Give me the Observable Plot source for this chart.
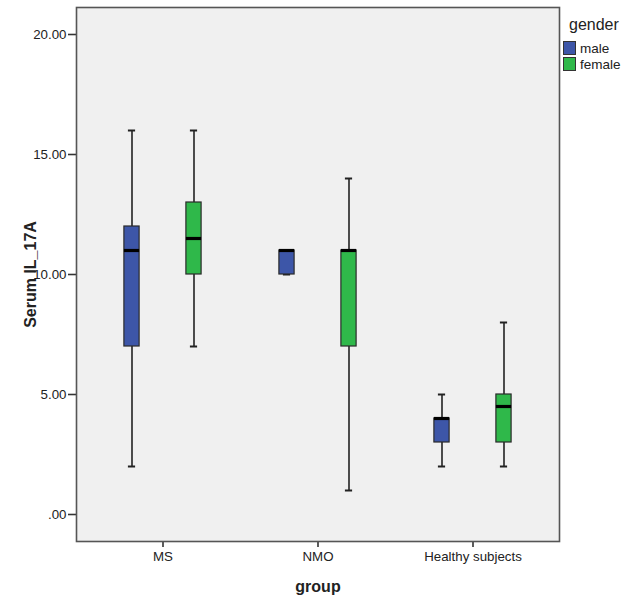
<!DOCTYPE html>
<html>
<head>
<meta charset="utf-8">
<script src="https://cdn.jsdelivr.net/npm/d3@7"></script>
<script src="https://cdn.jsdelivr.net/npm/@observablehq/plot@0.6"></script>
<style>
  body { margin: 0; background: #fff; font-family: "Liberation Sans", Arial, sans-serif; }
  #wrap { position: relative; width: 624px; height: 602px; }
  #legend { position: absolute; left: 563px; top: 16px; font-family: "Liberation Sans Narrow", "Liberation Sans", Arial, sans-serif; color: #222; }
  #legend .title { font-size: 16px; margin-left: 6px; margin-bottom: 6px; }
  #legend .item { display: flex; align-items: center; height: 16px; font-size: 13.5px; }
  #legend .sw { width: 11px; height: 12px; border: 1px solid #333; margin-right: 4px; }
</style>
</head>
<body>
<div id="wrap"><div id="chart"></div><div id="legend"></div></div>
<script>
const groups = ["MS", "NMO", "Healthy subjects"];
const genders = ["male", "female"];
const colors = ["#3d56a8", "#2fb84a"];
// summary statistics per group, male then female
const maleMin    = [2, 10, 2];
const maleQ1     = [7, 10, 3];
const maleMedian = [11, 11, 4];
const maleQ3     = [12, 11, 4];
const maleMax    = [16, 11, 5];
const femaleMin    = [7, 1, 2];
const femaleQ1     = [10, 7, 3];
const femaleMedian = [11.5, 11, 4.5];
const femaleQ3     = [13, 11, 5];
const femaleMax    = [16, 14, 8];
const yTicks = [0, 5, 10, 15, 20];

const rows = [];
groups.forEach((g, i) => {
  rows.push({group: g, gender: "male", min: maleMin[i], q1: maleQ1[i], median: maleMedian[i], q3: maleQ3[i], max: maleMax[i]});
  rows.push({group: g, gender: "female", min: femaleMin[i], q1: femaleQ1[i], median: femaleMedian[i], q3: femaleQ3[i], max: femaleMax[i]});
});

const W = 624, H = 602, mL = 76, mR = 65, mT = 7, mB = 61;
const padOuter = 0.05;
const bw = (W - mL - mR) / (groups.length + 2 * padOuter);
const offset = 31, boxW = 16, capW = 8;
const boxInset = (bw - boxW) / 2, capInset = (bw - capW) / 2;

const marks = [Plot.frame({fill: "#f0f0f0", stroke: null})];
genders.forEach((gd, k) => {
  const d = rows.filter(r => r.gender === gd);
  const dx = k === 0 ? -offset : offset;
  marks.push(
    Plot.ruleX(d, {x: "group", y1: "min", y2: "max", dx, stroke: "#222", strokeWidth: 1.6}),
    Plot.tickY(d, {x: "group", y: "min", dx, insetLeft: capInset, insetRight: capInset, stroke: "#222", strokeWidth: 2}),
    Plot.tickY(d, {x: "group", y: "max", dx, insetLeft: capInset, insetRight: capInset, stroke: "#222", strokeWidth: 2}),
    Plot.barY(d, {x: "group", y1: "q1", y2: "q3", dx, insetLeft: boxInset, insetRight: boxInset, fill: colors[k], stroke: "#2a2a2a", strokeWidth: 1.2}),
    Plot.tickY(d, {x: "group", y: "median", dx, insetLeft: boxInset, insetRight: boxInset, stroke: "#000", strokeWidth: 3.2})
  );
});
marks.push(
  Plot.axisY({ticks: yTicks, tickSize: 8, tickPadding: 2, stroke: "#333", strokeWidth: 1.6,
    tickFormat: d => d === 0 ? ".00" : d.toFixed(2),
    label: "Serum IL_17A", labelAnchor: "center", labelArrow: "none", labelOffset: 52}),
  Plot.axisX({tickSize: 6, tickPadding: 4, stroke: "#333", strokeWidth: 1.6,
    label: "group", labelAnchor: "center", labelArrow: "none", labelOffset: 50}),
  Plot.frame({stroke: "#555", strokeWidth: 1.6})
);

const chart = Plot.plot({
  width: W, height: H,
  marginLeft: mL, marginRight: mR, marginTop: mT, marginBottom: mB,
  style: {fontFamily: "'Liberation Sans', Arial, sans-serif", fontSize: "13.3px", color: "#222", background: "#fff"},
  x: {type: "band", domain: groups, paddingInner: 0, paddingOuter: padOuter},
  y: {domain: [-1.125, 21.125]},
  marks
});
document.getElementById("chart").appendChild(chart);

// bold axis labels
d3.select(chart).selectAll("[aria-label='y-axis label'] text, [aria-label='x-axis label'] text")
  .style("font-weight", "bold").style("font-size", "16px");

const lg = d3.select("#legend");
lg.append("div").attr("class", "title").text("gender");
genders.forEach((g, k) => {
  const it = lg.append("div").attr("class", "item");
  it.append("div").attr("class", "sw").style("background", colors[k]);
  it.append("span").text(g);
});
</script>
</body>
</html>
